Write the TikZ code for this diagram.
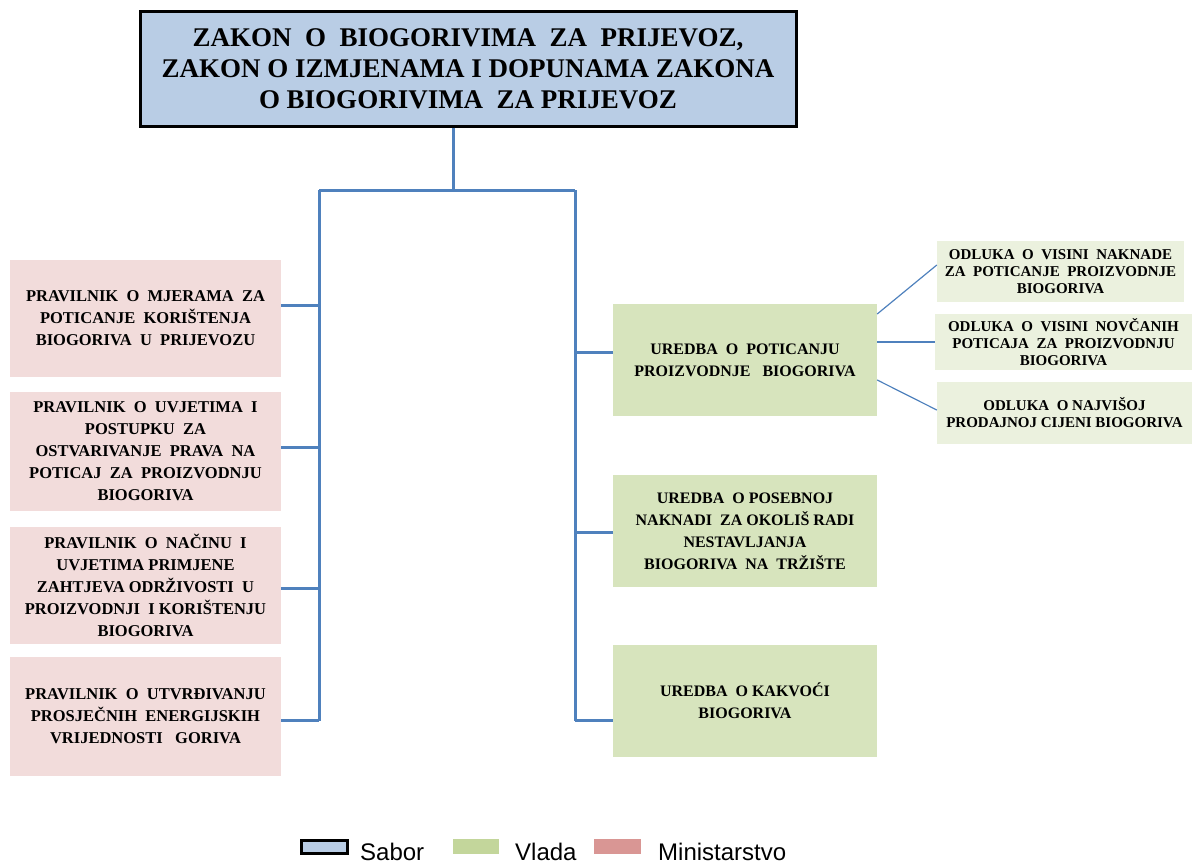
\documentclass[tikz,border=0pt]{standalone}
\usepackage{fontspec}
\setmainfont{Liberation Serif}
\newfontfamily\legendfont{Liberation Sans}
\definecolor{saborfill}{HTML}{B9CDE5}
\definecolor{ministryfill}{HTML}{F2DCDB}
\definecolor{govfill}{HTML}{D7E4BD}
\definecolor{decisionfill}{HTML}{EBF1DE}
\definecolor{linkblue}{HTML}{4F81BD}
\definecolor{keygreen}{HTML}{C3D69B}
\definecolor{keypink}{HTML}{D99694}
\begin{document}
\begin{tikzpicture}[x=1pt,y=-1pt,
  card/.style={inner sep=0pt, align=center},
  lawbox/.style={card, draw=black, line width=3pt, fill=saborfill,
    font=\fontsize{27}{31}\selectfont\bfseries},
  rulebox/.style={card, fill=ministryfill, minimum width=271pt,
    font=\fontsize{16.5}{22}\selectfont\bfseries},
  decreebox/.style={card, fill=govfill, minimum width=264pt, minimum height=112pt,
    font=\fontsize{16}{22}\selectfont\bfseries},
  decisionbox/.style={card, fill=decisionfill,
    font=\fontsize{15}{17}\selectfont\bfseries},
  bus/.style={draw=linkblue, line width=3pt},
  twig/.style={draw=linkblue, line width=1.2pt},
  keytext/.style={anchor=base west, inner sep=0pt, font=\legendfont\fontsize{24}{24}\selectfont}]
\useasboundingbox (0,0) rectangle (1192,863);

% parliament act
\node[lawbox, minimum width=656pt, minimum height=115pt] (law) at (468,68.5)
  {ZAKON\ \ O\ \ BIOGORIVIMA\ \ ZA\ \ PRIJEVOZ,\\ZAKON O IZMJENAMA I DOPUNAMA ZAKONA\\O BIOGORIVIMA\ \ ZA PRIJEVOZ};

% ministry regulations
\node[rulebox, minimum height=117pt] (p1) at (145.5,318.5)
  {PRAVILNIK\ \ O\ \ MJERAMA\ \ ZA\\POTICANJE\ \ KORIŠTENJA\\BIOGORIVA\ \ U\ \ PRIJEVOZU};
\node[rulebox, minimum height=119pt] (p2) at (145.5,451.5)
  {PRAVILNIK\ \ O\ \ UVJETIMA\ \ I\\POSTUPKU\ \ ZA\\OSTVARIVANJE\ \ PRAVA\ \ NA\\POTICAJ\ \ ZA\ \ PROIZVODNJU\\BIOGORIVA};
\node[rulebox, minimum height=117pt] (p3) at (145.5,585.5)
  {PRAVILNIK\ \ O\ \ NAČINU\ \ I\\UVJETIMA PRIMJENE\\ZAHTJEVA ODRŽIVOSTI\ \ U\\PROIZVODNJI\ \ I KORIŠTENJU\\BIOGORIVA};
\node[rulebox, minimum height=119pt] (p4) at (145.5,716.5)
  {PRAVILNIK\ \ O\ \ UTVRĐIVANJU\\PROSJEČNIH\ \ ENERGIJSKIH\\VRIJEDNOSTI\ \ \ GORIVA};

% government decrees
\node[decreebox] (g1) at (745,360)
  {UREDBA\ \ O\ \ POTICANJU\\PROIZVODNJE\ \ \ BIOGORIVA};
\node[decreebox] (g2) at (745,531)
  {UREDBA\ \ O POSEBNOJ\\NAKNADI\ \ ZA OKOLIŠ RADI\\NESTAVLJANJA\\BIOGORIVA\ \ NA\ \ TRŽIŠTE};
\node[decreebox] (g3) at (745,701)
  {UREDBA\ \ O KAKVOĆI\\BIOGORIVA};

% government decisions
\node[decisionbox, minimum width=247pt, minimum height=61pt] (s1) at (1060.5,271.5)
  {ODLUKA\ \ O\ \ VISINI\ \ NAKNADE\\ZA\ \ POTICANJE\ \ PROIZVODNJE\\BIOGORIVA};
\node[decisionbox, minimum width=257pt, minimum height=56pt] (s2) at (1063.5,342)
  {ODLUKA\ \ O\ \ VISINI\ \ NOVČANIH\\POTICAJA\ \ ZA\ \ PROIZVODNJU\\BIOGORIVA};
\node[decisionbox, minimum width=255pt, minimum height=62pt] (s3) at (1064.5,413)
  {ODLUKA\ \ O NAJVIŠOJ\\PRODAJNOJ CIJENI BIOGORIVA};

% trunk and branches
\coordinate (stem) at (453,190);
\coordinate (busL) at (319,190);
\coordinate (busR) at (575,190);
\draw[bus] (law.south -| stem) -- (stem);
\draw[bus] (busL) -- (busR);
\draw[bus] (busL) -- (busL |- 0,721);
\draw[bus] (busR) -- (busR |- 0,721);
\draw[bus] (p1.east |- 0,305) -- (busL |- 0,305);
\draw[bus] (p2.east |- 0,447) -- (busL |- 0,447);
\draw[bus] (p3.east |- 0,588) -- (busL |- 0,588);
\draw[bus] (p4.east |- 0,720) -- (busL |- 0,720);
\draw[bus] (busR |- 0,352) -- (g1.west |- 0,352);
\draw[bus] (busR |- 0,532) -- (g2.west |- 0,532);
\draw[bus] (busR |- 0,720) -- (g3.west |- 0,720);

% decision links
\draw[twig] (g1.east |- 0,314) -- (s1.west |- 0,265);
\draw[bus, line width=2.5pt] (g1.east |- 0,342) -- (s2.west);
\draw[twig] (g1.east |- 0,380) -- (s3.west |- 0,410);

% key
\node[draw=black, line width=3pt, fill=saborfill, minimum width=46pt, minimum height=13pt, inner sep=0pt] (kS) at (324,847) {};
\node[keytext] (tS) at (360,860) {Sabor};
\node[fill=keygreen, minimum width=46pt, minimum height=15pt, inner sep=0pt] (kV) at (476,846) {};
\node[keytext] (tV) at (515,860) {Vlada};
\node[fill=keypink, minimum width=47pt, minimum height=15pt, inner sep=0pt] (kM) at (617,846) {};
\node[keytext] (tM) at (658,860) {Ministarstvo};
\end{tikzpicture}
\end{document}
